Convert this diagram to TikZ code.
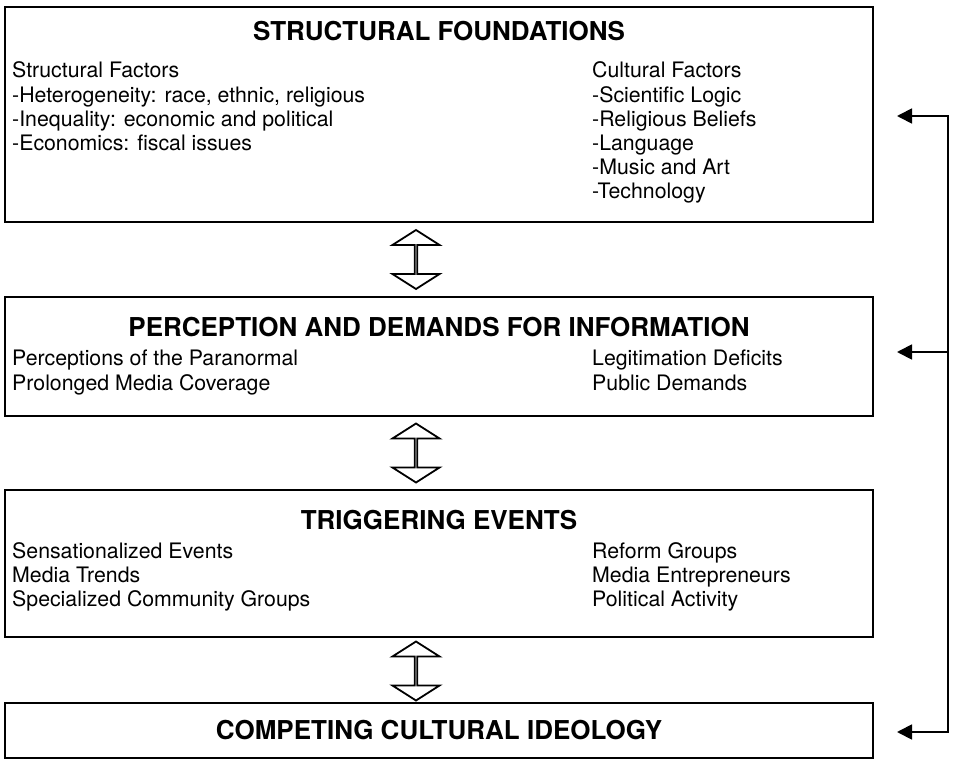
\documentclass[tikz,border=0pt]{standalone}
\usepackage{fontspec}
\setmainfont{TeX Gyre Heros}
\usetikzlibrary{shapes.arrows,arrows.meta}

\begin{document}
\begin{tikzpicture}
  [x=1pt,y=-1pt,
   box/.style={rectangle,draw,line width=1.8pt,inner sep=0pt,minimum width=868pt},
   ttl/.style={anchor=base,inner sep=0pt,font=\fontsize{26}{30}\selectfont\bfseries},
   txt/.style={anchor=north west,align=left,inner sep=0pt,font=\fontsize{21.3}{24.2}\selectfont},
   dbl/.style={double arrow,draw,fill=white,line width=1.8pt,inner sep=0pt,rotate=90,
     minimum height=59pt,minimum width=47pt,double arrow head extend=16.5pt,double arrow tip angle=115}]
  \useasboundingbox (0,0) rectangle (954,760);

  % the four levels
  \node[box,minimum height=215pt] (fnd) at (439,114.5) {};
  \node[box,minimum height=119pt] (per) at (439,356.5) {};
  \node[box,minimum height=147pt] (trg) at (439,563.5) {};
  \node[box,minimum height=55pt]  (ide) at (439,730.5) {};

  \node[ttl] (fndt) at (439,41) {STRUCTURAL FOUNDATIONS};
  \node[txt] (fnds) at (12,61.7) {Structural Factors\\-Heterogeneity: race, ethnic, religious\\-Inequality: economic and political\\-Economics: fiscal issues};
  \node[txt] (fndc) at (592,61.7) {Cultural Factors\\-Scientific Logic\\-Religious Beliefs\\-Language\\-Music and Art\\-Technology};

  \node[ttl] (pert) at (439,336) {PERCEPTION AND DEMANDS FOR INFORMATION};
  \node[txt] (perl) at (12,350.2) {Perceptions of the Paranormal\\Prolonged Media Coverage};
  \node[txt] (perr) at (592,350.2) {Legitimation Deficits\\Public Demands};

  \node[ttl] (trgt) at (439,529) {TRIGGERING EVENTS};
  \node[txt] (trgl) at (12,542.2) {Sensationalized Events\\Media Trends\\Specialized Community Groups};
  \node[txt] (trgr) at (592,542.2) {Reform Groups\\Media Entrepreneurs\\Political Activity};

  \node[ttl] (idet) at (439,739) {COMPETING CULTURAL IDEOLOGY};

  % hollow arrows between levels
  \node[dbl] (a1) at (416,259.5) {};
  \node[dbl] (a2) at (416,453) {};
  \node[dbl] (a3) at (416,671) {};

  % feedback line on the right
  \coordinate (r1) at (948,116);
  \coordinate (r2) at (948,352);
  \coordinate (r3) at (948,732);
  \coordinate (e1) at (897,116);
  \coordinate (e2) at (897,352);
  \coordinate (e3) at (897,732);
  \draw[line width=1.8pt,{Triangle[length=15pt,width=15pt]}-{Triangle[length=15pt,width=15pt]}]
    (e1) -- (r1) -- (r3) -- (e3);
  \draw[line width=1.8pt,-{Triangle[length=15pt,width=15pt]}] (r2) -- (e2);
\end{tikzpicture}
\end{document}
